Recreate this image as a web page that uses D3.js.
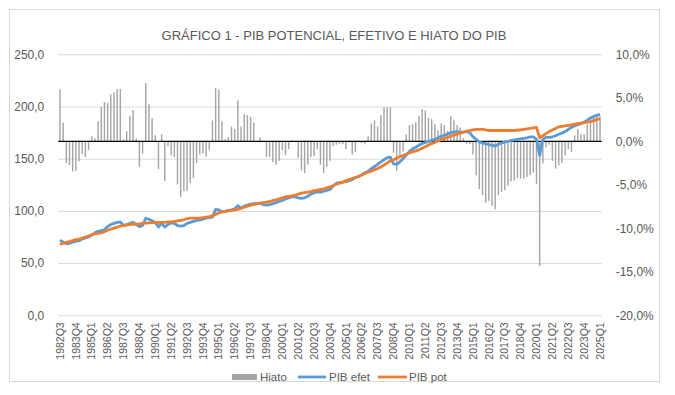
<!DOCTYPE html>
<html>
<head>
<meta charset="utf-8">
<script src="https://cdn.jsdelivr.net/npm/d3@7"></script>
<style>
  body { margin: 0; background: #fff; }
  svg { font-family: "Liberation Sans", Arial, sans-serif; }
</style>
</head>
<body>
<div id="chart"></div>
<script>
// quarters 1982Q3 .. 2025Q1
const quarters = [];
for (let y = 1982, q = 3; ; q++) {
    if (q > 4) { q = 1; y++; }
    quarters.push(`${y}Q${q}`);
    if (y === 2025 && q === 1) break;
}

// hiato do PIB (%)
const hiato = [
  6.0, 2.15, -2.5, -2.7, -3.5, -3.4, -2.3, -1.45, -1.8, -1.0,
  0.57, 0.35, 2.3, 3.95, 4.5, 4.4, 5.4, 5.6, 6.0, 6.0,
  0.23, 1.15, 2.9, 3.6, 0.35, -2.95, -1.4, 6.7, 4.25, 2.65,
  0.7, -3.2, 0.8, -4.55, -0.55, -1.6, -1.8, -4.95, -6.4, -5.7,
  -5.7, -4.8, -4.2, -2.5, -1.5, -1.4, -1.75, -1.0, 2.4, 6.1,
  5.9, 2.3, 0.25, 0.5, 1.7, 1.4, 4.7, 1.7, 3.1, 3.0,
  2.8, 2.15, 0.05, 0.45, 0.0, -1.8, -1.8, -2.4, -2.7, -2.25,
  -1.0, -1.6, -0.9, 0.1, 0.0, -1.9, -3.35, -3.65, -2.7, -1.8,
  -1.7, -0.9, -2.7, -3.65, -2.95, -2.25, -0.55, -0.4, -0.3, -0.35,
  -0.9, 0.1, -1.5, -1.2, 0.1, -0.2, -0.35, 0.57, 2.05, 2.4,
  1.7, 3.0, 3.9, 3.9, 3.9, -1.3, -3.4, -1.95, -1.2, 0.8,
  1.85, 1.95, 2.2, 2.9, 3.7, 3.55, 2.7, 2.55, 1.95, 1.25,
  2.05, 1.85, 1.2, 2.9, 2.4, 1.85, 1.6, 0.35, -0.3, -0.3,
  -1.5, -3.9, -5.5, -6.2, -7.05, -6.85, -7.45, -7.8, -6.2, -5.8,
  -5.6, -5.1, -4.6, -4.5, -4.25, -4.3, -4.3, -4.1, -3.9, -3.6,
  -4.9, -14.35, -2.55, -0.7, -0.4, -2.25, -3.15, -2.75, -2.5, -1.6,
  -0.9, -1.2, 0.7, 1.4, 0.8, 0.8, 1.95, 2.5, 2.85, 2.85, 2.85
];

// PIB efetivo (índice)
const pibEfet = [
  72, 70, 68.5, 69, 70, 71, 71.5, 73, 74, 75,
  77, 79, 80.5, 81, 82, 85, 87, 88, 89, 89.5,
  86, 87, 88, 89, 87, 85, 86, 93, 92, 90.5,
  89, 84.5, 88, 84.5, 87, 88.5, 88, 86, 85.5, 86,
  88, 89, 90, 91, 91.5, 92, 93, 93.5, 94, 101.5,
  101, 99, 99.5, 100.5, 101, 102, 105, 102.5, 104.5, 105.5,
  106.5, 107, 107, 107.5, 106, 105.5, 106, 107, 108, 109,
  110, 111.5, 112.5, 113.5, 113.5, 112.5, 112, 112.5, 114, 116,
  117.5, 118, 118, 119, 119.5, 120.5, 124, 126.5, 127, 127.5,
  128, 129, 130, 132, 133, 134.5, 136.5, 138, 140.5, 142.5,
  144.5, 147, 149, 151, 151.5, 145, 144.5, 147, 150, 153.5,
  157, 159.5, 161, 163, 164.5, 165.5, 166.5, 167.5, 168.5, 170,
  171.5, 172.5, 173.5, 175, 175.5, 176, 175.5, 175.5, 176, 175,
  171, 168.5, 166, 165, 164.5, 163.5, 163, 162, 164, 165,
  166, 166.5, 167.5, 168, 168.5, 169, 169.5, 170, 171, 171,
  168.5, 153, 168.5, 170.5, 170.5, 171, 172, 173.5, 174.5, 176,
  178, 180, 181.5, 182.5, 183.5, 185, 187, 189, 190.5, 191.5, 192.5
];

// PIB potencial (índice)
const pibPot = [
  68, 69, 70, 70.5, 71.5, 72.5, 73, 74, 75, 76,
  77, 78, 78.5, 79, 80, 81.5, 82.5, 83.5, 84.5, 85.5,
  86, 86.5, 87, 87.2, 87.3, 87.5, 88, 88.2, 88.5, 88.7,
  89, 89, 89, 89, 89.5, 89.5, 90, 90.5, 91, 91.5,
  92.5, 93, 93, 93, 93.2, 93.5, 94, 94.5, 95.5, 96.5,
  98, 99, 99.5, 100, 100.5, 101, 101.5, 102.5, 103.5, 104.5,
  105.5, 106, 107, 107.5, 108, 108.5, 109, 110, 110.5, 111.5,
  112.5, 113.5, 114, 114.5, 115, 116, 117, 117.5, 118, 118.5,
  119.5, 120, 120.5, 121, 122, 123, 124, 125.5, 126.5, 127.5,
  129, 130, 131, 132, 133, 134.5, 136, 137, 138, 139.5,
  140.5, 142, 144, 146, 148, 149, 150.5, 152, 153, 154.5,
  155.5, 156.5, 157.5, 158.5, 160, 161.5, 163, 164.5, 165.5, 167,
  168.5, 169.5, 170.5, 171.5, 172.5, 173.5, 174.5, 175.5, 176.5, 177,
  177.5, 178, 178, 178, 177.5, 177, 177, 177, 177, 177,
  177, 177, 177, 177, 177.5, 177.5, 178, 178.5, 179, 179.5,
  180, 170, 172, 174, 176, 177.5, 179, 180.5, 181, 181.5,
  182, 182.5, 183, 183.5, 184, 184.5, 185, 185.5, 186.5, 187.5, 188.5
];

const leftTicks = [0, 50, 100, 150, 200, 250];
const rightTicks = [-0.20, -0.15, -0.10, -0.05, 0, 0.05, 0.10];

const width = 675, height = 395;
const plot = { left: 58.3, right: 601.7, top: 54.3, bottom: 315.3 };
const grey = "#595959";

const locale = d3.formatLocale({ decimal: ",", thousands: ".", grouping: [3], currency: ["R$", ""], minus: "-" });
const fmtLeft = locale.format(".1f");
const fmtRight = locale.format(".1%");

const svg = d3.select("#chart").append("svg")
    .attr("width", width)
    .attr("height", height);

// moldura do gráfico
svg.append("rect")
    .attr("x", 9.5).attr("y", 9.5)
    .attr("width", 650).attr("height", 372)
    .attr("fill", "#fff")
    .attr("stroke", "#d9d9d9");

const x = d3.scaleBand()
    .domain(quarters)
    .range([plot.left, plot.right])
    .paddingInner(0.55)
    .paddingOuter(0.3);

const y = d3.scaleLinear().domain([0, 250]).range([plot.bottom, plot.top]);
const y2 = d3.scaleLinear().domain([-0.20, 0.10]).range([plot.bottom, plot.top]);

// grade + eixo esquerdo
const gLeft = svg.append("g")
    .attr("transform", `translate(${plot.left},0)`)
    .call(d3.axisLeft(y).tickValues(leftTicks).tickFormat(fmtLeft)
        .tickSize(-(plot.right - plot.left)).tickPadding(14));
gLeft.select(".domain").remove();
gLeft.selectAll(".tick line").attr("stroke", "#d9d9d9");
gLeft.selectAll("text").attr("fill", grey).attr("font-size", 12);

// eixo direito
const gRight = svg.append("g")
    .attr("transform", `translate(${plot.right},0)`)
    .call(d3.axisRight(y2).tickValues(rightTicks).tickFormat(fmtRight)
        .tickSize(0).tickPadding(14));
gRight.select(".domain").remove();
gRight.selectAll("text").attr("fill", grey).attr("font-size", 12);

// barras do hiato
svg.append("g")
    .selectAll("rect")
    .data(hiato)
    .join("rect")
    .attr("x", (d, i) => x(quarters[i]))
    .attr("width", x.bandwidth())
    .attr("y", d => y2(Math.max(0, d / 100)))
    .attr("height", d => Math.abs(y2(d / 100) - y2(0)))
    .attr("fill", "#a5a5a5");

// linha do zero
svg.append("line")
    .attr("x1", plot.left).attr("x2", plot.right)
    .attr("y1", y2(0)).attr("y2", y2(0))
    .attr("stroke", "#000").attr("stroke-width", 1.2);

const line = d3.line()
    .x((d, i) => x(quarters[i]) + x.bandwidth() / 2)
    .y(d => y(d));

svg.append("path")
    .datum(pibEfet)
    .attr("d", line)
    .attr("fill", "none")
    .attr("stroke", "#5b9bd5")
    .attr("stroke-width", 2.8)
    .attr("stroke-linejoin", "round");

svg.append("path")
    .datum(pibPot)
    .attr("d", line)
    .attr("fill", "none")
    .attr("stroke", "#ed7d31")
    .attr("stroke-width", 2.8)
    .attr("stroke-linejoin", "round");

// eixo x (rótulos verticais)
const gx = svg.append("g")
    .attr("transform", `translate(0,${plot.bottom})`)
    .call(d3.axisBottom(x).tickValues(quarters.filter((d, i) => i % 5 === 0)).tickSize(0));
gx.select(".domain").remove();
gx.selectAll("text")
    .attr("fill", grey)
    .attr("font-size", 10.5)
    .attr("text-anchor", "end")
    .attr("transform", "rotate(-90)")
    .attr("x", -7)
    .attr("y", 0)
    .attr("dy", "0.35em");

// título
svg.append("text")
    .attr("x", 334).attr("y", 40)
    .attr("text-anchor", "middle")
    .attr("fill", grey)
    .attr("font-size", 13)
    .text("GRÁFICO 1 - PIB POTENCIAL, EFETIVO E HIATO DO PIB");

// legenda
const legend = svg.append("g").attr("font-size", 11.5).attr("fill", grey);
legend.append("rect").attr("x", 232).attr("y", 374).attr("width", 25).attr("height", 6).attr("fill", "#a5a5a5");
legend.append("text").attr("x", 260).attr("y", 381).text("Hiato");
legend.append("line").attr("x1", 298).attr("x2", 326).attr("y1", 377).attr("y2", 377)
    .attr("stroke", "#5b9bd5").attr("stroke-width", 2.8);
legend.append("text").attr("x", 329).attr("y", 381).text("PIB efet");
legend.append("line").attr("x1", 378).attr("x2", 407).attr("y1", 377).attr("y2", 377)
    .attr("stroke", "#ed7d31").attr("stroke-width", 2.8);
legend.append("text").attr("x", 409).attr("y", 381).text("PIB pot");
</script>
</body>
</html>
